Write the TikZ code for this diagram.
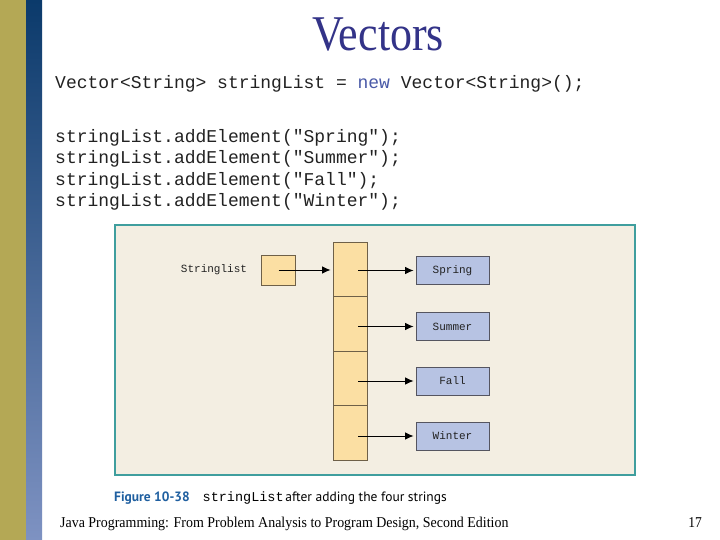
\documentclass[tikz,border=0pt]{standalone}
\usepackage{fontspec}
\setmainfont{Liberation Serif}
\setmonofont{Liberation Mono}
\setsansfont{PT Sans}
\usetikzlibrary{arrows.meta}
\definecolor{olive}{HTML}{B4A855}
\definecolor{navytop}{HTML}{0B3A6B}
\definecolor{navybot}{HTML}{7E92C2}
\definecolor{titleblue}{HTML}{333388}
\definecolor{kwblue}{HTML}{4A5AA8}
\definecolor{codegray}{HTML}{222222}
\definecolor{panelfill}{HTML}{F3EEE2}
\definecolor{panelborder}{HTML}{3F9E9E}
\definecolor{cellfill}{HTML}{FBDFA3}
\definecolor{cellborder}{HTML}{6E6048}
\definecolor{strfill}{HTML}{B7C3E3}
\definecolor{strborder}{HTML}{555560}
\definecolor{capblue}{HTML}{1F5FA0}
\tikzset{
  codeline/.style={anchor=base west, inner sep=0pt, text=codegray, font=\fontsize{18}{20}\ttfamily},
  cellbox/.style={draw=cellborder, fill=cellfill, line width=0.8pt, inner sep=0pt},
  strbox/.style={draw=strborder, fill=strfill, line width=0.8pt, inner sep=0pt,
    minimum width=73pt, minimum height=28pt, text=codegray, font=\fontsize{11}{12}\ttfamily},
  ptr/.style={line width=0.9pt, -{Latex[length=8.5pt,width=7.5pt]}},
}
\begin{document}
\begin{tikzpicture}[x=1pt,y=-1pt]
\useasboundingbox (0,0) rectangle (720,540);
\fill[white] (0,0) rectangle (720,540);
% side bars
\fill[olive] (0,0) rectangle (26,540);
\shade[top color=navytop, bottom color=navybot] (26,0) rectangle (42,540);
% title
\node[anchor=base, inner sep=0pt, text=titleblue] (title) at (378,51)
  {\scalebox{0.88}[1]{\fontsize{50}{52}\selectfont Vectors}};
% code
\node[codeline] (c0) at (55,89) {Vector<String> stringList = \textcolor{kwblue}{new} Vector<String>();};
\node[codeline] (c1) at (55,143) {stringList.addElement("Spring");};
\node[codeline] (c2) at (55,164) {stringList.addElement("Summer");};
\node[codeline] (c3) at (55,186) {stringList.addElement("Fall");};
\node[codeline] (c4) at (55,207) {stringList.addElement("Winter");};
% panel
\draw[panelborder, fill=panelfill, line width=1.6pt] (115,225) rectangle (635,475);
% Stringlist label and box
\node[font=\fontsize{11}{12}\ttfamily, text=codegray, inner sep=0pt] (lbl) at (214,270) {Stringlist};
\node[cellbox, minimum width=34pt, minimum height=30pt] (ref) at (278.5,270) {};
% column cells
\node[cellbox, minimum width=34pt, minimum height=54.5pt] (e0) at (350,269.25) {};
\node[cellbox, minimum width=34pt, minimum height=54.5pt] (e1) at (350,323.75) {};
\node[cellbox, minimum width=34pt, minimum height=54.5pt] (e2) at (350,378.25) {};
\node[cellbox, minimum width=34pt, minimum height=54.5pt] (e3) at (350,432.75) {};
% string boxes
\node[strbox] (s0) at (452.5,270.5) {Spring};
\node[strbox] (s1) at (452.5,326.5) {Summer};
\node[strbox] (s2) at (452.5,381) {Fall};
\node[strbox] (s3) at (452.5,436) {Winter};
% pointers
\draw[ptr] (ref.center) -- ([xshift=-2pt]ref.center -| e0.west);
\draw[ptr] ([xshift=8pt]e0.center |- s0) -- ([xshift=-2pt]s0.west);
\draw[ptr] ([xshift=8pt]e1.center |- s1) -- ([xshift=-2pt]s1.west);
\draw[ptr] ([xshift=8pt]e2.center |- s2) -- ([xshift=-2pt]s2.west);
\draw[ptr] ([xshift=8pt]e3.center |- s3) -- ([xshift=-2pt]s3.west);
% caption
\node[anchor=base west, inner sep=0pt] (cap) at (114,501)
  {{\fontsize{13.5}{15}\sffamily\bfseries\color{capblue}Figure 10-38}\hspace{13pt}{\fontsize{13.5}{15}\ttfamily stringList}\,{\fontsize{13.5}{15}\sffamily after adding the four strings}};
% footer
\node[anchor=base west, inner sep=0pt] (foot) at (60,527)
  {\scalebox{0.93}[1]{\fontsize{15}{16}\selectfont Java Programming: From Problem Analysis to Program Design, Second Edition}};
\node[anchor=base east, inner sep=0pt] (page) at (702,527)
  {\scalebox{0.9}[1]{\fontsize{15}{16}\selectfont 17}};
\end{tikzpicture}
\end{document}
